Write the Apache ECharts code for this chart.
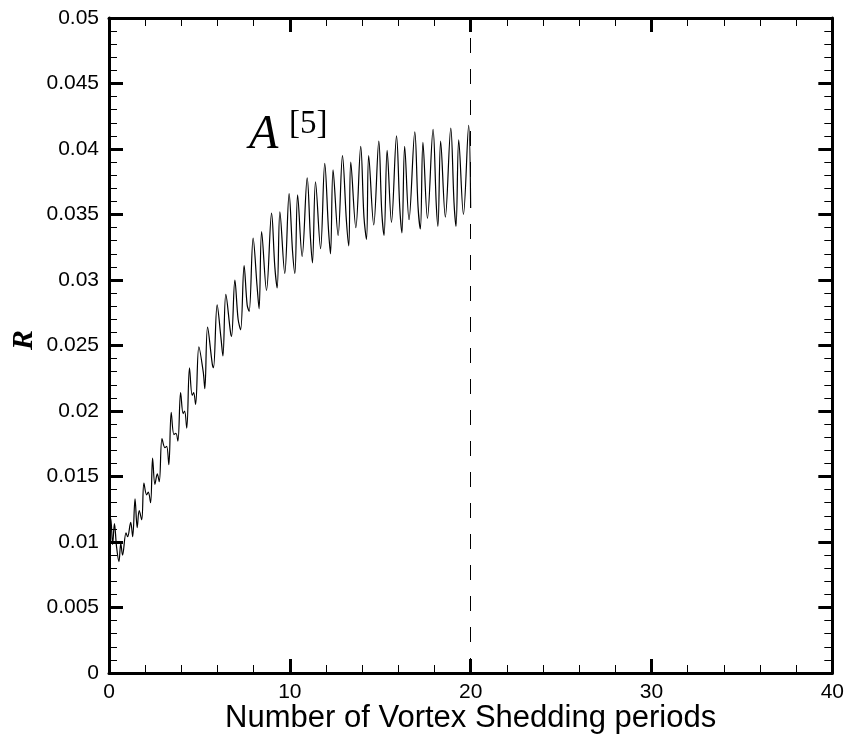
<!DOCTYPE html>
<html>
<head>
<meta charset="utf-8">
<script src="https://cdn.jsdelivr.net/npm/echarts@6/dist/echarts.min.js"></script>
<style>
  html, body { margin: 0; padding: 0; background: #fff; }
  #main { width: 847px; height: 747px; }
</style>
</head>
<body>
<div id="main"></div>
<script>
// R against number of vortex shedding periods
var rCurve = [
    [0, 0.0105], [0.1, 0.0118], [0.2, 0.0098], [0.3, 0.0114], [0.42, 0.0096],
    [0.55, 0.0085], [0.65, 0.0099], [0.75, 0.0090], [0.94, 0.0107], [1.03, 0.0104],
    [1.2, 0.0115], [1.31, 0.0104], [1.44, 0.0133], [1.56, 0.0111], [1.67, 0.0124],
    [1.81, 0.0117], [1.93, 0.0145], [2.08, 0.0136], [2.17, 0.0138], [2.3, 0.0130],
    [2.41, 0.0164], [2.54, 0.0144], [2.67, 0.0152], [2.78, 0.0146], [2.93, 0.0179],
    [3.09, 0.0172], [3.19, 0.0173], [3.31, 0.0159], [3.44, 0.0199], [3.59, 0.0182],
    [3.7, 0.0183], [3.81, 0.0177], [3.96, 0.0214], [4.1, 0.0198], [4.18, 0.0200],
    [4.3, 0.0187], [4.45, 0.0233], [4.6, 0.0212], [4.68, 0.0214], [4.79, 0.0205],
    [4.97, 0.0249], [5.21, 0.0230], [5.3, 0.0217], [5.45, 0.0264], [5.71, 0.0236],
    [5.78, 0.0233], [5.98, 0.0281], [6.19, 0.0256], [6.3, 0.0242], [6.46, 0.0289],
    [6.72, 0.0260], [6.78, 0.0257], [6.96, 0.0300], [7.14, 0.0270], [7.28, 0.0262],
    [7.47, 0.0311], [7.64, 0.0281], [7.75, 0.0276], [7.97, 0.0332], [8.19, 0.0295],
    [8.3, 0.0278], [8.44, 0.0337], [8.71, 0.0292], [8.99, 0.0351], [9.17, 0.0310],
    [9.3, 0.0294], [9.45, 0.0352], [9.72, 0.0305], [9.96, 0.0366], [10.15, 0.0322],
    [10.28, 0.0305], [10.43, 0.0365], [10.68, 0.0318], [10.96, 0.0378], [11.14, 0.0332],
    [11.25, 0.0313], [11.42, 0.0375], [11.7, 0.0324], [11.93, 0.0389], [12.14, 0.0338],
    [12.25, 0.0320], [12.39, 0.0384], [12.67, 0.0334], [12.91, 0.0395], [13.13, 0.0345],
    [13.26, 0.0326], [13.37, 0.0390], [13.65, 0.0340], [13.92, 0.0402], [14.1, 0.0348],
    [14.24, 0.0331], [14.36, 0.0395], [14.64, 0.0342], [14.92, 0.0406], [15.08, 0.0353],
    [15.21, 0.0334], [15.38, 0.0399], [15.62, 0.0344], [15.9, 0.0410], [16.08, 0.0355],
    [16.2, 0.0336], [16.35, 0.0402], [16.59, 0.0346], [16.91, 0.0413], [17.09, 0.0356],
    [17.22, 0.0339], [17.36, 0.0405], [17.61, 0.0347], [17.92, 0.0415], [18.1, 0.0357],
    [18.19, 0.0341], [18.34, 0.0406], [18.6, 0.0348], [18.9, 0.0416], [19.08, 0.0359],
    [19.19, 0.0341], [19.34, 0.0407], [19.6, 0.0350], [19.89, 0.0418], [20, 0.0355]
];
var markerPeriod = 20;   // dashed vertical line
var xRange = [0, 40];
var yRange = [0, 0.05];

var fontSans = 'Liberation Sans, Arial, sans-serif';
var fontSerif = 'Liberation Serif, Times New Roman, serif';

function tickLabel(v) {
    return String(+v.toFixed(3));
}

function frameAxis(extra) {
    var ax = {
        type: 'value',
        axisLine: { show: true, onZero: false, lineStyle: { color: '#000', width: 3 } },
        axisTick: { show: true, inside: true, length: 14, lineStyle: { color: '#000', width: 3 } },
        minorTick: { show: true, splitNumber: 5, length: 8, lineStyle: { color: '#000', width: 1 } },
        splitLine: { show: false },
        minorSplitLine: { show: false }
    };
    for (var k in extra) ax[k] = extra[k];
    return ax;
}

var chart = echarts.init(document.getElementById('main'));

var option = {
    backgroundColor: '#fff',
    animation: false,
    grid: { left: 109, right: 14, top: 18, bottom: 74 },
    xAxis: [
        frameAxis({
            position: 'bottom', min: xRange[0], max: xRange[1], interval: 10,
            axisLabel: { color: '#000', fontSize: 21, fontFamily: fontSans, margin: 9 },
            name: 'Number of Vortex Shedding periods',
            nameLocation: 'middle', nameGap: 30, nameMoveOverlap: false,
            nameTextStyle: { color: '#000', fontSize: 31, fontFamily: fontSans }
        }),
        frameAxis({
            position: 'top', min: xRange[0], max: xRange[1], interval: 10,
            axisLabel: { show: false }
        })
    ],
    yAxis: [
        frameAxis({
            position: 'left', min: yRange[0], max: yRange[1], interval: 0.005,
            axisLabel: { color: '#000', fontSize: 21, fontFamily: fontSans, margin: 10, formatter: tickLabel }
        }),
        frameAxis({
            position: 'right', min: yRange[0], max: yRange[1], interval: 0.005,
            axisLabel: { show: false }
        })
    ],
    graphic: [
        {
            type: 'text', x: 24, y: 340, rotation: Math.PI / 2,
            style: {
                text: 'R', fill: '#000', align: 'center', verticalAlign: 'middle',
                font: 'italic bold 30px ' + fontSerif
            }
        },
        {
            type: 'text', x: 249, y: 135,
            style: {
                text: 'A', fill: '#000', align: 'left', verticalAlign: 'middle',
                font: 'italic 48px ' + fontSerif
            }
        },
        {
            type: 'text', x: 289, y: 124,
            style: {
                text: '[5]', fill: '#000', align: 'left', verticalAlign: 'middle',
                font: '33px ' + fontSerif
            }
        }
    ],
    series: [
        {
            type: 'line',
            xAxisIndex: 0,
            yAxisIndex: 0,
            data: rCurve,
            showSymbol: false,
            smooth: 0.35,
            lineStyle: { color: '#000', width: 1.2 },
            markLine: {
                silent: true,
                symbol: 'none',
                label: { show: false },
                lineStyle: { color: '#000', width: 1, type: [15, 16] },
                data: [{ xAxis: markerPeriod }]
            }
        }
    ]
};

chart.setOption(option);
</script>
</body>
</html>
